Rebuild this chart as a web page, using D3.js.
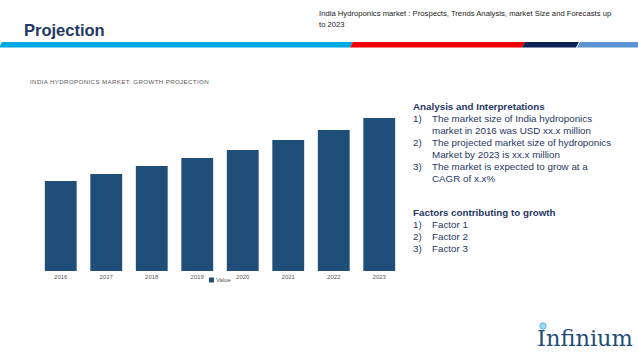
<!DOCTYPE html>
<html>
<head>
<meta charset="utf-8">
<script src="https://cdn.jsdelivr.net/npm/d3@7"></script>
<style>
  html, body { margin: 0; padding: 0; background: #ffffff; }
  svg { display: block; font-family: "Liberation Sans", Arial, sans-serif; }
</style>
</head>
<body>
<svg id="chart" width="638" height="359"></svg>
<script>
const years = ["2016", "2017", "2018", "2019", "2020", "2021", "2022", "2023"];
const values = [9.0, 9.7, 10.5, 11.3, 12.1, 13.1, 14.1, 15.3];
const seriesName = "Value";
const chartTitle = "INDIA HYDROPONICS MARKET: GROWTH PROJECTION";
const pageTitle = "Projection";
const subtitleLines = ["India Hydroponics market : Prospects, Trends Analysis, market Size and Forecasts up", "to 2023"];
const analysisHeading = "Analysis and Interpretations";
const analysisItems = [
  ["1)", ["The market size of India hydroponics", "market in 2016 was USD xx.x million"]],
  ["2)", ["The projected market size of hydroponics", "Market by 2023 is xx.x million"]],
  ["3)", ["The market is expected to grow at a", "CAGR of x.x%"]]
];
const factorsHeading = "Factors contributing to growth";
const factorItems = [["1)", ["Factor 1"]], ["2)", ["Factor 2"]], ["3)", ["Factor 3"]]];

const svg = d3.select("#chart");
const navy = "#1f3864";
const barColor = "#1f4e79";

// Header
svg.append("text").attr("x", 24).attr("y", 36)
  .attr("font-size", 16.5).attr("font-weight", "bold").attr("fill", navy)
  .text(pageTitle);

svg.append("g").selectAll("text").data(subtitleLines).join("text")
  .attr("x", 319).attr("y", (d, i) => 16 + i * 10.5)
  .attr("font-size", 7.7).attr("fill", "#1a1a1a")
  .text(d => d);

// Stripe
const stripe = [
  {x0: 0, x1: 351, c: "#00a9e6"},
  {x0: 351, x1: 523, c: "#f20000"},
  {x0: 523, x1: 577, c: "#0c2457"},
  {x0: 578, x1: 640, c: "#5b93d0"}
];
svg.append("g").selectAll("path").data(stripe).join("path")
  .attr("d", d => `M${d.x0 + 2},42 L${d.x1 + 2},42 L${d.x1 - 1},47.5 L${d.x0 - 1},47.5 Z`)
  .attr("fill", d => d.c);

// Chart title
svg.append("text").attr("x", 30).attr("y", 84)
  .attr("font-size", 6.2).attr("letter-spacing", 0.35).attr("fill", "#595959")
  .text(chartTitle);

// Bars
const x = d3.scaleBand().domain(years).range([38, 402]).paddingInner(0.3).paddingOuter(0.15);
const y = d3.scaleLinear().domain([0, 16]).range([271, 111]);

svg.append("g").selectAll("rect").data(years).join("rect")
  .attr("x", d => x(d))
  .attr("y", (d, i) => y(values[i]))
  .attr("width", x.bandwidth())
  .attr("height", (d, i) => y(0) - y(values[i]))
  .attr("fill", barColor);

const xAxis = svg.append("g").attr("transform", `translate(0,${y(0)})`)
  .call(d3.axisBottom(x).tickSize(0).tickPadding(3.5));
xAxis.select(".domain").remove();
xAxis.selectAll("text").attr("font-size", 6).attr("fill", "#595959")
  .attr("font-family", "Liberation Sans, Arial, sans-serif");

// Legend
const lg = svg.append("g").attr("transform", "translate(209,277.5)");
lg.append("rect").attr("width", 5).attr("height", 5).attr("fill", barColor);
lg.append("text").attr("x", 7).attr("y", 4.8).attr("font-size", 6).attr("fill", "#595959").text(seriesName);

// Right panel
function block(heading, items, y0) {
  const g = svg.append("g");
  g.append("text").attr("x", 413).attr("y", y0).attr("font-size", 9.8)
    .attr("font-weight", "bold").attr("fill", navy).text(heading);
  let yy = y0 + 12;
  items.forEach(([num, lines]) => {
    g.append("text").attr("x", 413).attr("y", yy).attr("font-size", 9.8).attr("fill", navy).text(num);
    lines.forEach(l => {
      g.append("text").attr("x", 432).attr("y", yy).attr("font-size", 9.8).attr("fill", navy).text(l);
      yy += 12;
    });
  });
}
block(analysisHeading, analysisItems, 109.5);
block(factorsHeading, factorItems, 215.5);

// Logo
const logo = svg.append("g");
logo.append("text").attr("x", 537).attr("y", 346)
  .attr("font-family", "DejaVu Serif, serif").attr("font-size", 22.5)
  .attr("fill", "#1f4e79").text("Infinium");
logo.append("circle").attr("cx", 543).attr("cy", 326).attr("r", 3.2)
  .attr("fill", "#9fd8ef").attr("stroke", "#4db3dd").attr("stroke-width", 0.8);
</script>
</body>
</html>
